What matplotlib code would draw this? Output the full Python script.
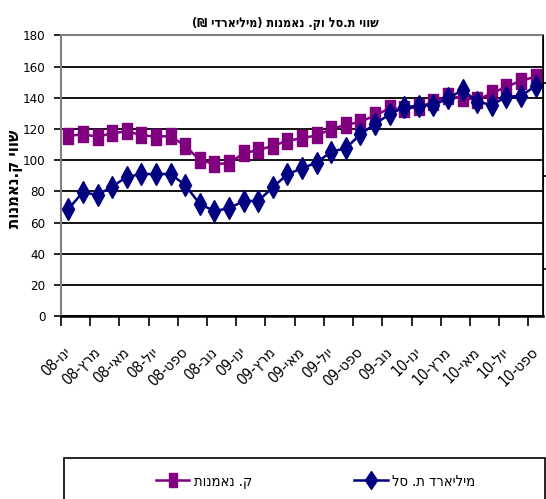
import re
import matplotlib
matplotlib.use("Agg")
import matplotlib.pyplot as plt
from matplotlib.patches import Rectangle

plt.rcParams['font.family'] = ['DejaVu Sans']
plt.rcParams['font.stretch'] = 'condensed'

##  monthly values, Jan 2008 .. Sep 2010 (billions NIS)
funds = [115.6, 116.7, 115.1, 117.3, 118.6, 116.2, 115.1, 115.6, 109.2, 100.2,
         97.6, 98.1, 104.5, 106.6, 109.2, 112.6, 114.1, 116.0, 119.9, 122.8,
         124.6, 128.8, 133.3, 132.7, 134.4, 137.2, 141.4, 139.7, 138.9, 142.9,
         147.2, 151.0, 153.6]
etf = [68.8, 79.5, 77.8, 83.1, 89.3, 91.2, 91.2, 91.2, 84.2, 72.0,
       67.5, 69.2, 73.9, 73.9, 82.7, 91.0, 94.9, 98.5, 105.5, 107.7,
       116.7, 123.3, 129.5, 134.0, 135.0, 135.4, 139.7, 145.1, 137.6, 135.4,
       140.8, 141.2, 147.8]
month_labels = ['ינו-08', 'מרץ-08', 'מאי-08', 'יול-08', 'ספט-08', 'נוב-08',
                'ינו-09', 'מרץ-09', 'מאי-09', 'יול-09', 'ספט-09', 'נוב-09',
                'ינו-10', 'מרץ-10', 'מאי-10', 'יול-10', 'ספט-10']
y_ticks = [0, 20, 40, 60, 80, 100, 120, 140, 160, 180]

title_txt = 'שווי ת.סל וק. נאמנות (מיליארדי ₪)'
ylabel_txt = 'שווי ק.נאמנות'
funds_name = 'ק. נאמנות'
etf_name = 'מיליארד ת. סל'


##  matplotlib has no bidi support: put hebrew into visual order
def rtl(s):
    mirror = {'(': ')', ')': '('}
    out = ''.join(mirror.get(c, c) for c in s[::-1])
    return re.sub(r'[0-9]+', lambda m: m.group(0)[::-1], out)


fig = plt.figure(figsize=(5.46, 4.99), dpi=100)
ax = fig.add_axes([0.1117, 0.3661, 0.8828, 0.5628])

x = list(range(len(funds)))

rect_marker = [(-0.62, -1), (0.62, -1), (0.62, 1), (-0.62, 1), (-0.62, -1)]
l_funds, = ax.plot(x, funds, color='#800080', lw=1.8, marker=rect_marker,
                   markersize=12, markerfacecolor='#800080',
                   markeredgecolor='#800080', label=rtl(funds_name))
l_etf, = ax.plot(x, etf, color='#000080', lw=1.8, marker='d',
                 markersize=11, markerfacecolor='#000080',
                 markeredgecolor='#000080', label=rtl(etf_name))

ax.set_xlim(-0.5, len(funds) - 0.5)
ax.set_ylim(0, 180)
ax.set_yticks(y_ticks)
ax.set_yticklabels([str(v) for v in y_ticks], fontsize=9.5)
ax.yaxis.grid(True, color='black', lw=1.3)
ax.set_axisbelow(True)

ax.set_xticks([-0.5 + 2 * k for k in range(17)])
ax.set_xticklabels([])
ax.set_xticks(list(range(0, len(funds), 2)), minor=True)
ax.set_xticklabels([rtl(m) for m in month_labels], minor=True, fontsize=11,
                   rotation=45, ha='right', va='center', rotation_mode='anchor')
ax.tick_params(axis='x', which='major', direction='out', length=7, width=1.2)
ax.tick_params(axis='x', which='minor', length=0, pad=24)
ax.tick_params(axis='y', direction='out', length=5, width=1.2, pad=6)

for side in ['left', 'top']:
    ax.spines[side].set_color('#808080')
    ax.spines[side].set_linewidth(1.5)
ax.spines['bottom'].set_linewidth(1.8)
ax.spines['right'].set_linewidth(1.2)

##  secondary axis on the right (ticks only)
ax2 = ax.twinx()
ax2.set_ylim(0, 180)
ax2.set_yticks([30.3, 89.9, 149.6])
ax2.set_yticklabels([])
ax2.tick_params(axis='y', direction='out', length=5, width=1.2)
for side in ['left', 'top', 'bottom']:
    ax2.spines[side].set_visible(False)

ax.set_ylabel(rtl(ylabel_txt), fontsize=12, fontweight='bold')
ax.yaxis.set_label_coords(-0.079, 0.49)
fig.text(0.522, 0.952, rtl(title_txt), ha='center', va='center',
         fontsize=9, fontweight='bold')

fig.patches.append(Rectangle((0.117, -0.05), 0.881, 0.132, transform=fig.transFigure,
                             fill=False, edgecolor='black', lw=1.2))
fig.legend(handles=[l_funds, l_etf], loc='center', bbox_to_anchor=(0.578, 0.036),
           ncol=2, frameon=False, fontsize=10.5, handlelength=2.3,
           columnspacing=7.0, handletextpad=0.3, markerscale=0.85)

fig.savefig('out.png', dpi=100)
